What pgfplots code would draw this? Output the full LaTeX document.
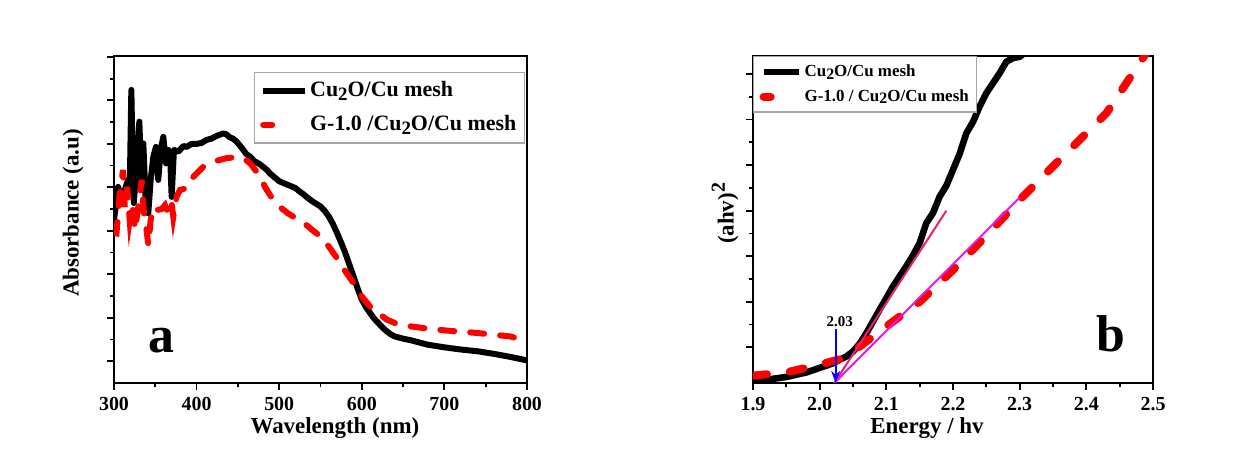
\documentclass[border=0pt]{standalone}
\usepackage{fontspec}
\setmainfont{Liberation Serif}
\usepackage{pgfplots}
\pgfplotsset{compat=1.18}
\usetikzlibrary{arrows.meta}

\definecolor{tpink}{RGB}{235,30,120}
\definecolor{tmag}{RGB}{230,20,230}
\definecolor{lred}{RGB}{255,0,0}
\newcommand{\ctwo}[1]{Cu\raisebox{-0.35ex}{\fontsize{#1}{#1}\selectfont 2}O}

\pgfplotsset{
  myax/.style={
    scale only axis,
    axis line style={line width=1bp},
    tick style={line width=0.9bp, black},
    tick align=outside,
    xtick pos=bottom, ytick pos=left,
    major tick length=3.5bp, minor tick length=2bp,
    /pgf/number format/assume math mode=true,
    tick label style={font=\bfseries\fontsize{10}{12}\selectfont},
    label style={font=\bfseries\fontsize{11.5}{13}\selectfont},
    legend cell align=left,
  }
}

\begin{document}
\begin{tikzpicture}
\path[use as bounding box] (0,0) rectangle (619bp,225.5bp);

% ---------------- panel a ----------------
\begin{axis}[myax,
  at={(57bp,34bp)}, anchor=south west,
  width=206.5bp, height=163.5bp,
  xmin=300, xmax=800, ymin=0, ymax=7.52,
  xtick={300,400,...,800}, minor x tick num=1,
  ytick={0.5,1.5,...,7.5}, minor y tick num=1, yticklabels={},
  xlabel={Wavelength (nm)}, ylabel={Absorbance (a.u)},
  xlabel style={at={(axis description cs:0.535,-0.138)}, anchor=center},
  ylabel style={at={(axis description cs:-0.099,0.52)}, anchor=center},
  legend image code/.code={\draw[#1] (0bp,0bp) -- (21bp,0bp);},
  legend style={at={(0.995,0.951)}, anchor=north east, draw=gray!70, line width=0.6bp,
    font=\bfseries\fontsize{11}{13}\selectfont, inner xsep=3bp, inner ysep=2.5bp,
    row sep=4bp, nodes={inner xsep=1bp}},
]
\addplot[black, line width=3bp, line join=round] coordinates {
(300,3.75)(303,4.2)(305,4.51)(308,4.3)(311,4.28)(314,4.5)(317,4.67)(319,4.4)(321,6.74)(322.5,5.2)(324,4.14)(327.5,5.06)(330.7,6.01)(333.5,4.44)(335.5,5.51)(338.7,4.05)(341.5,3.90)(344.4,4.67)(347.6,5.2)(350.8,5.43)(353.6,4.67)(356.5,5.36)(359.7,5.66)(363,5.05)(365.8,5.36)(368,5.2)(369.8,4.28)(372.6,5.36)(378,5.32)(384,5.45)(388,5.43)(394,5.5)(400,5.5)(406,5.52)(412,5.59)(418,5.62)(424,5.68)(432,5.74)(436,5.72)(440,5.65)(444,5.62)(448.5,5.55)(455,5.40)(460,5.27)(465,5.20)(470,5.10)(475,5.05)(480,4.98)(485,4.90)(490,4.80)(495,4.72)(500,4.64)(505,4.60)(510,4.56)(515,4.52)(520,4.48)(525,4.40)(530,4.33)(535,4.25)(540,4.18)(545,4.12)(550,4.06)(555,3.96)(560,3.83)(565,3.66)(570,3.45)(575,3.23)(580,2.99)(585,2.72)(590,2.45)(595,2.17)(600,1.92)(605,1.75)(610,1.61)(615,1.48)(620,1.38)(625,1.28)(630,1.19)(635,1.12)(640,1.07)(650,1.02)(660,0.98)(670,0.93)(680,0.88)(690,0.85)(700,0.82)(720,0.77)(740,0.73)(760,0.67)(780,0.60)(800,0.52)
};
\addlegendentry{\ctwo{9.5}/Cu mesh}
\addplot[lred, line width=3bp, line cap=round, dash pattern=on 7bp off 8bp,
  legend image post style={dash pattern=on 4.5bp off 40bp}] coordinates {
(300,3.45)(303,3.44)(306.5,4.28)(311,4.90)(313,4.05)(316,4.51)(319,3.75)(322,4.13)(325.4,3.52)(329.4,4.05)(333.5,4.67)(336.3,3.90)(339,3.59)(341.5,3.17)(344.4,3.75)(348.4,4.05)(352.4,3.98)(357.7,4.0)(361.7,4.09)(365.8,3.90)(369.8,4.13)(371.8,3.82)(376,4.3)(380,4.44)(388,4.48)(396,4.74)(408,4.97)(420,5.09)(436,5.17)(450,5.20)(458,5.15)(465,5.05)(471,4.9)(477,4.74)(483,4.5)(490,4.29)(500,4.06)(510,3.91)(520,3.79)(530,3.68)(540,3.52)(550,3.37)(560,3.14)(570,2.87)(580,2.57)(590,2.30)(600,1.99)(610,1.76)(620,1.61)(630,1.46)(640,1.38)(660,1.30)(680,1.25)(700,1.21)(740,1.15)(780,1.07)(800,0.96)
};
\addlegendentry{G-1.0 /\ctwo{9.5}/Cu mesh}
\node[font=\bfseries\fontsize{26}{28}\selectfont, anchor=base] at (axis cs:357,0.71) {a};
\end{axis}

% ---------------- panel b ----------------
\begin{axis}[myax,
  at={(376.5bp,34bp)}, anchor=south west,
  width=200bp, height=163.5bp,
  xmin=1.9, xmax=2.5, ymin=0.218, ymax=7.396,
  xtick={1.9,2,2.1,2.2,2.3,2.4,2.5}, xticklabels={1.9,2.0,2.1,2.2,2.3,2.4,2.5},
  minor x tick num=1,
  ytick={1,2,3,4,5,6,7}, minor y tick num=1, yticklabels={},
  xlabel={Energy / hv}, ylabel={(ahv)\textsuperscript{\fontsize{10}{10}\selectfont 2}},
  xlabel style={at={(axis description cs:0.435,-0.138)}, anchor=center},
  ylabel style={at={(axis description cs:-0.07,0.52)}, anchor=center},
  legend image code/.code={\draw[#1] (0bp,0bp) -- (17.5bp,0bp);},
  legend style={at={(0,1)}, anchor=north west, draw=gray!70, line width=0.6bp,
    font=\bfseries\fontsize{8.5}{10}\selectfont, inner xsep=3bp, inner ysep=2bp,
    row sep=1bp, nodes={inner xsep=1bp}},
]
\addplot[black, line width=3.3bp, line join=round] coordinates {
(1.90,0.27)(1.93,0.31)(1.95,0.35)(1.98,0.45)(2.00,0.55)(2.02,0.65)(2.03,0.73)(2.04,0.80)(2.05,0.91)(2.06,1.08)(2.07,1.31)(2.08,1.57)(2.09,1.83)(2.10,2.08)(2.11,2.34)(2.12,2.56)(2.13,2.78)(2.14,3.02)(2.15,3.29)(2.16,3.73)(2.17,3.95)(2.18,4.31)(2.19,4.55)(2.20,4.90)(2.21,5.25)(2.22,5.70)(2.23,5.95)(2.24,6.29)(2.25,6.58)(2.26,6.80)(2.27,7.02)(2.28,7.27)(2.29,7.35)(2.30,7.38)(2.32,7.6)
};
\addlegendentry{\ctwo{8}/Cu mesh}
\addplot[lred, line width=4bp, line cap=round, dash pattern=on 7bp off 11.5bp,
  legend image post style={dash pattern=on 3.5bp off 40bp}] coordinates {
(1.90,0.38)(1.95,0.45)(2.00,0.62)(2.03,0.74)(2.05,0.91)(2.07,1.13)(2.10,1.46)(2.15,2.0)(2.20,2.70)(2.25,3.45)(2.30,4.24)(2.33,4.68)(2.36,5.12)(2.40,5.70)(2.43,6.14)(2.46,6.80)(2.48,7.24)(2.50,7.7)
};
\addlegendentry{G-1.0 / \ctwo{8}/Cu mesh}
\addplot[tpink, line width=1bp, forget plot] coordinates {(2.022,0.218) (2.19,4.0)};
\addplot[tmag, line width=1bp, forget plot] coordinates {(2.022,0.218) (2.30,4.29)};
\addplot[blue, line width=0.9bp, -{Stealth[length=6bp,width=4.5bp]}, forget plot] coordinates {(2.024,1.40) (2.024,0.22)};
\node[font=\bfseries\fontsize{7.5}{9}\selectfont, anchor=base] at (axis cs:2.03,1.45) {2.03};
\node[font=\bfseries\fontsize{26}{28}\selectfont, anchor=base] at (axis cs:2.437,0.905) {b};
\end{axis}
\end{tikzpicture}
\end{document}
